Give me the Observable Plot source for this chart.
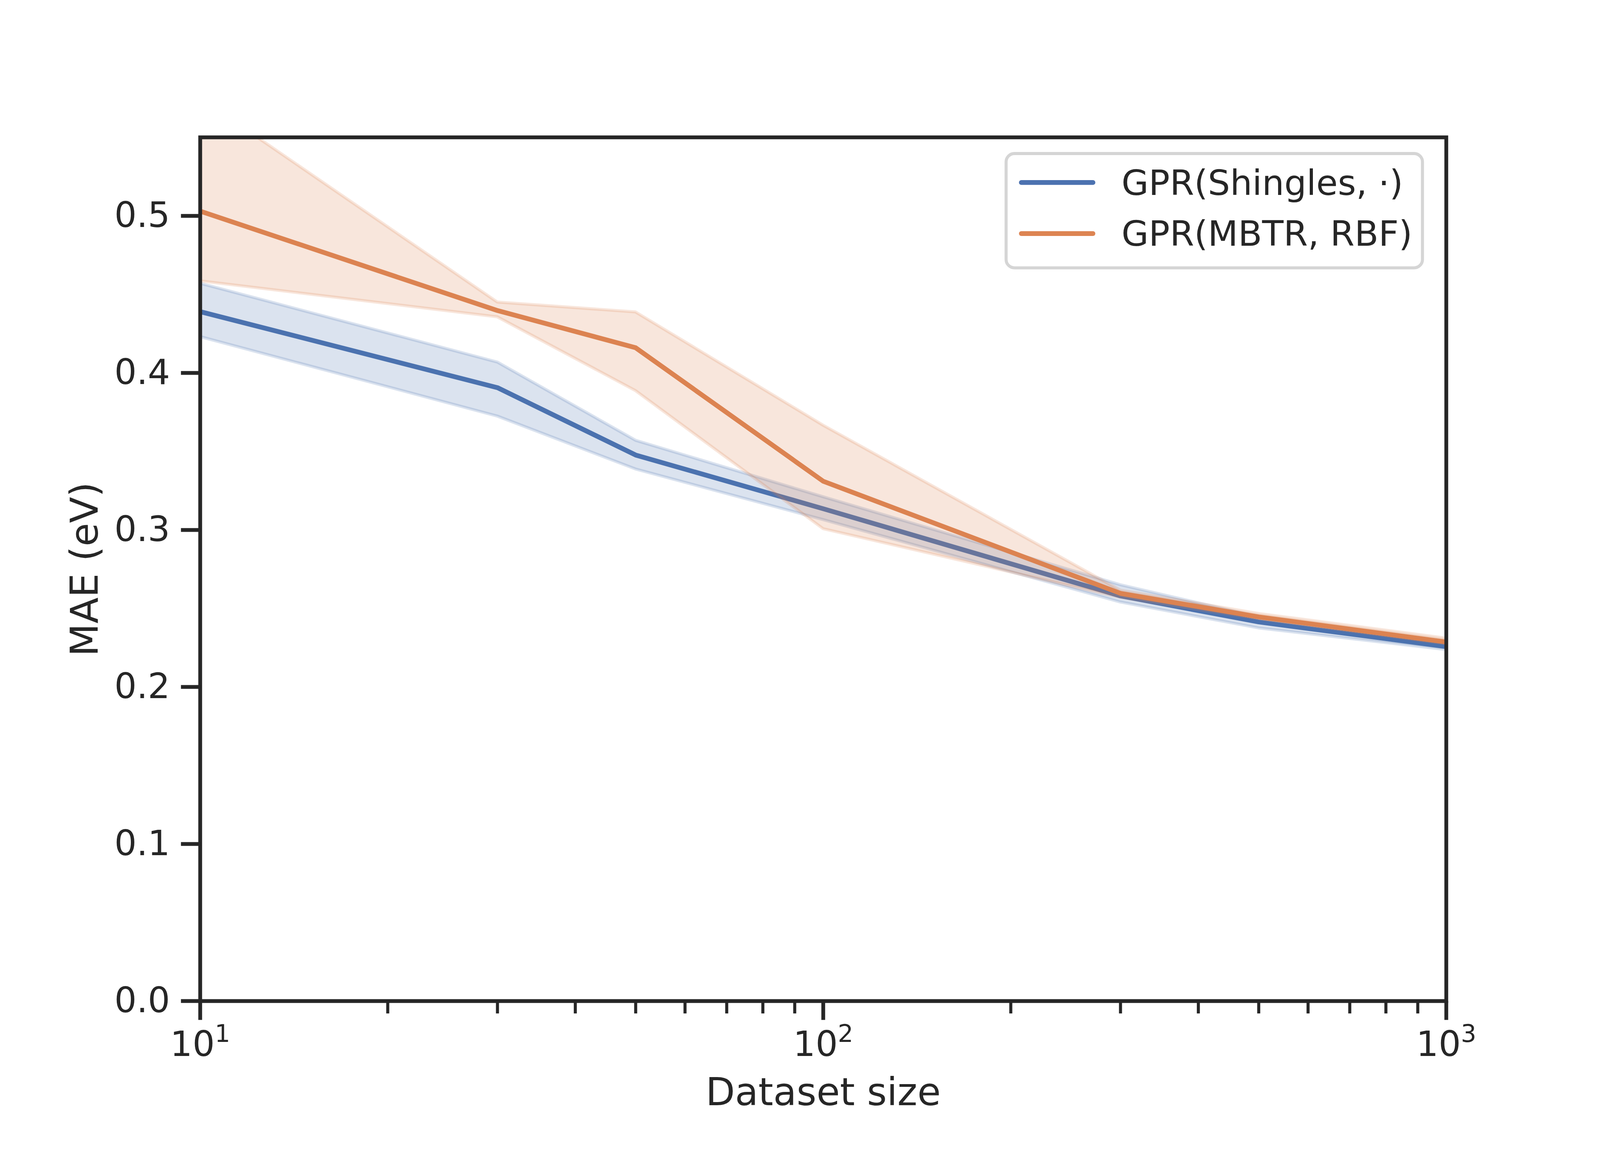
<!DOCTYPE html>
<html>
<head>
<meta charset="utf-8">
<script src="https://cdn.jsdelivr.net/npm/d3@7"></script>
<script src="https://cdn.jsdelivr.net/npm/@observablehq/plot@0.6"></script>
<style>
  html, body { margin: 0; padding: 0; background: #ffffff; }
  #chart svg { display: block; }
</style>
</head>
<body>
<div id="chart"></div>
<script>
// ---- data ----
const sizes = [10, 30, 50, 100, 300, 500, 1000];
const shinglesMean = [0.439, 0.3906, 0.3477, 0.3135, 0.258, 0.2414, 0.2257];
const shinglesLow  = [0.423, 0.3724, 0.3387, 0.3065, 0.254, 0.2375, 0.2237];
const shinglesHigh = [0.457, 0.4068, 0.357, 0.321, 0.265, 0.2445, 0.227];
const mbtrMean = [0.503, 0.4397, 0.416, 0.331, 0.2596, 0.2446, 0.2286];
const mbtrLow  = [0.4585, 0.4356, 0.3886, 0.3007, 0.257, 0.2433, 0.2273];
const mbtrHigh = [0.575, 0.445, 0.4387, 0.3666, 0.2615, 0.2467, 0.231];
const seriesNames = ["GPR(Shingles, \u00b7)", "GPR(MBTR, RBF)"];
const seriesColors = ["#4C72B0", "#DD8452"];
const yTicks = [0, 0.1, 0.2, 0.3, 0.4, 0.5];
const xMajorTicks = [10, 100, 1000];
const xMajorExponents = ["1", "2", "3"];
const xMinorTicks = [20, 30, 40, 50, 60, 70, 80, 90, 200, 300, 400, 500, 600, 700, 800, 900];
const xLabel = "Dataset size";
const yLabel = "MAE (eV)";

// ---- build tables ----
const shingles = sizes.map((s, i) => ({size: s, mean: shinglesMean[i], lo: shinglesLow[i], hi: shinglesHigh[i]}));
const mbtr = sizes.map((s, i) => ({size: s, mean: mbtrMean[i], lo: mbtrLow[i], hi: mbtrHigh[i]}));

const ink = "#262626";
const W = 4200, H = 3000;
const mL = 525, mR = 404, mT = 360, mB = 373;

const plot = Plot.plot({
  width: W,
  height: H,
  marginLeft: mL,
  marginRight: mR,
  marginTop: mT,
  marginBottom: mB,
  style: {fontFamily: "DejaVu Sans", background: "#ffffff", color: ink},
  x: {type: "log", domain: [10, 1000]},
  y: {domain: [0, 0.55]},
  marks: [
    // Shingles: line then band
    Plot.line(shingles, {x: "size", y: "mean", stroke: seriesColors[0], strokeWidth: 12.5, clip: true}),
    Plot.areaY(shingles, {x: "size", y1: "lo", y2: "hi", fill: seriesColors[0], fillOpacity: 0.2,
      stroke: seriesColors[0], strokeOpacity: 0.2, strokeWidth: 8, clip: true}),
    // MBTR: line then band
    Plot.line(mbtr, {x: "size", y: "mean", stroke: seriesColors[1], strokeWidth: 12.5, clip: true}),
    Plot.areaY(mbtr, {x: "size", y1: "lo", y2: "hi", fill: seriesColors[1], fillOpacity: 0.2,
      stroke: seriesColors[1], strokeOpacity: 0.2, strokeWidth: 8, clip: true}),
    // axes
    Plot.axisY(yTicks, {anchor: "left", tickSize: 50, tickPadding: 29, fontSize: 92,
      stroke: ink, strokeWidth: 10, fill: ink, tickFormat: d3.format(".1f"), label: null}),
    Plot.axisX(xMinorTicks, {anchor: "bottom", tickSize: 33, stroke: ink, strokeWidth: 8,
      tickFormat: () => "", label: null}),
    Plot.axisX(xMajorTicks, {anchor: "bottom", tickSize: 50, tickPadding: 29, fontSize: 92,
      stroke: ink, strokeWidth: 10, fill: ink,
      tickFormat: (d) => "10^" + xMajorExponents[xMajorTicks.indexOf(d)], label: null}),
    Plot.frame({stroke: ink, strokeWidth: 10}),
    // axis titles
    Plot.text([xLabel], {frameAnchor: "bottom", dy: 241, fontSize: 100, fill: ink,
      lineAnchor: "middle", textAnchor: "middle"}),
    Plot.text([yLabel], {frameAnchor: "left", dx: -301, rotate: -90, fontSize: 100, fill: ink,
      lineAnchor: "middle", textAnchor: "middle"})
  ]
});

document.getElementById("chart").appendChild(plot);

const svg = d3.select(plot);

// ---- render "10^n" tick labels as base + superscript ----
svg.selectAll("text").each(function () {
  const m = /^10\^(\d+)$/.exec(this.textContent);
  if (m) {
    const sel = d3.select(this);
    sel.text(null);
    sel.append("tspan").text("10");
    sel.append("tspan").attr("font-size", 64).attr("dy", -37).text(m[1]);
  }
});

// ---- legend (inside the plot, upper right) ----
const fx1 = W - mR, fy0 = mT;
const lg = svg.append("g").attr("font-family", "DejaVu Sans").attr("text-anchor", "start");
const boxW = 1093, boxH = 300;
const bx = fx1 - 62 - boxW, by = fy0 + 43;
lg.append("rect")
  .attr("x", bx).attr("y", by).attr("width", boxW).attr("height", boxH)
  .attr("rx", 22).attr("ry", 22)
  .attr("fill", "#ffffff").attr("fill-opacity", 0.8)
  .attr("stroke", "#d5d5d5").attr("stroke-width", 8);
seriesNames.forEach((name, i) => {
  const cy = by + 76 + i * 134;
  lg.append("line")
    .attr("x1", bx + 40).attr("x2", bx + 228).attr("y1", cy).attr("y2", cy)
    .attr("stroke", seriesColors[i]).attr("stroke-width", 12.5).attr("stroke-linecap", "round");
  lg.append("text")
    .attr("x", bx + 303).attr("y", cy).attr("dy", "0.35em")
    .attr("text-anchor", "start")
    .attr("font-size", 92).attr("fill", ink)
    .text(name);
});
</script>
</body>
</html>
